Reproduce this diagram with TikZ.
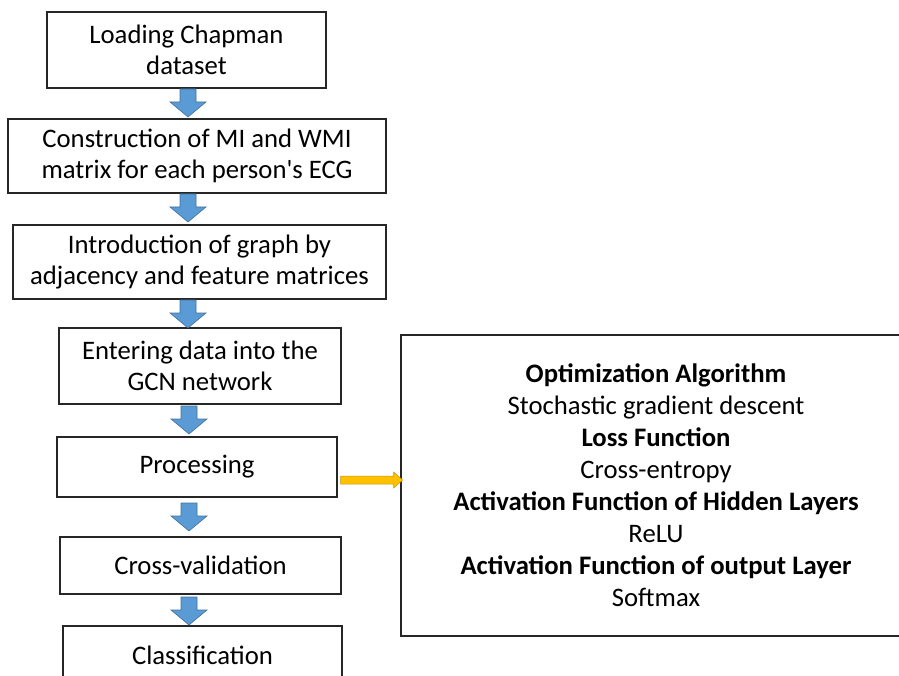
\documentclass[tikz,border=0pt]{standalone}
\usepackage{fontspec}
\setmainfont{Carlito}
% plain family without the TeX input mapping, so ' stays a straight quote
\newfontfamily\carlito{Carlito}
\usetikzlibrary{calc}

\definecolor{flowblue}{HTML}{5B9BD5}
\definecolor{flowblueline}{HTML}{41719C}
\definecolor{flowyellow}{HTML}{FFC000}
\definecolor{flowyellowline}{HTML}{C99700}
\definecolor{frame}{HTML}{262626}

\tikzset{
  x=1pt, y=1pt,
  stepbox/.style={draw=frame, line width=1.3pt, rectangle, align=center,
    inner sep=0pt, font=\carlito\fontsize{26.7pt}{31.5pt}\selectfont},
  parambox/.style={draw=frame, line width=1.3pt, rectangle, align=center,
    inner sep=0pt, font=\carlito\fontsize{26.7pt}{32pt}\selectfont},
  pics/downarrow/.style={code={
    \filldraw[fill=flowblue, draw=flowblueline, line width=0.6pt, line join=miter]
      (-8,0) -- (8,0) -- (8,-13) -- (18,-13) -- (0,-28) -- (-18,-13) -- (-8,-13) -- cycle;
  }},
  pics/rightarrow/.style={code={
    \filldraw[fill=flowyellow, draw=flowyellowline, line width=0.5pt, line join=miter]
      (0,4) -- (53,4) -- (53,8) -- (62,0) -- (53,-8) -- (53,-4) -- (0,-4) -- cycle;
  }},
}

\begin{document}
\begin{tikzpicture}
\useasboundingbox (0,0) rectangle (899,-676);
\clip (0,0) rectangle (899,-676);

% flow steps
\node[stepbox, minimum width=279pt, minimum height=76pt] (b1) at (186.5,-50)
  {Loading Chapman\\dataset};
\node[stepbox, minimum width=378pt, minimum height=74pt] (b2) at (197,-156)
  {Construction of MI and WMI\\matrix for each person's ECG};
\node[stepbox, minimum width=373pt, minimum height=74pt] (b3) at (199.5,-262)
  {Introduction of graph by\\adjacency and feature matrices};
\node[stepbox, minimum width=282pt, minimum height=76pt] (b4) at (200,-366)
  {Entering data into the\\GCN network};
\node[stepbox, minimum width=280pt, minimum height=60pt] (b5) at (197,-467)
  {Processing};
\node[stepbox, minimum width=281pt, minimum height=57pt] (b6) at (200.5,-565.5)
  {Cross-validation};
\node[stepbox, minimum width=279pt, minimum height=58pt] (b7) at (202.5,-655)
  {Classification};

% training settings
\node[parambox, minimum width=510pt, minimum height=301pt] (r) at (656,-485.5)
  {\textbf{Optimization Algorithm}\\
   Stochastic gradient descent\\
   \textbf{Loss Function}\\
   Cross-entropy\\
   \textbf{Activation Function of Hidden Layers}\\
   ReLU\\
   \textbf{Activation Function of output Layer}\\
   Softmax};

% block arrows between the steps
\pic (a1) at (188,-89) {downarrow};
\pic (a2) at (188,-194) {downarrow};
\pic (a3) at (188,-300) {downarrow};
\pic (a4) at (189,-406) {downarrow};
\pic (a5) at (189,-503) {downarrow};
\pic (a6) at (189,-597) {downarrow};

% processing feeds the settings box
\pic (y1) at ($(b5.east)+(3,-13)$) {rightarrow};
\end{tikzpicture}
\end{document}
